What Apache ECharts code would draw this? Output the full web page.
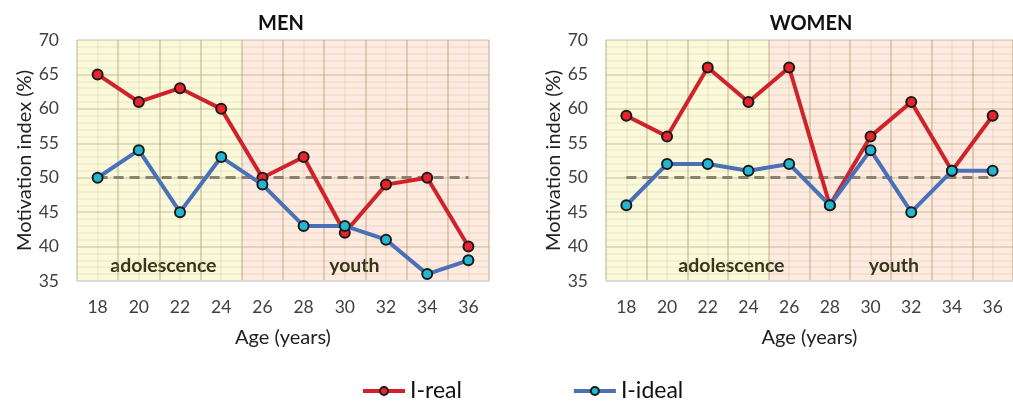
<!DOCTYPE html>
<html><head><meta charset="utf-8">
<script src="https://cdn.jsdelivr.net/npm/echarts@6/dist/echarts.min.js"></script>
<style>html,body{margin:0;padding:0;background:#fff}#c{width:1013px;height:402px}</style>
</head><body><div id="c"></div>
<script>
var ages = ['18','20','22','24','26','28','30','32','34','36'];
var yTicks = {min:35, max:70, step:5};
var menReal = [65,61,63,60,50,53,42,49,50,40];
var menIdeal = [50,54,45,53,49,43,43,41,36,38];
var womenReal = [59,56,66,61,66,46,56,61,51,59];
var womenIdeal = [46,52,52,51,52,46,54,45,51,51];
var refLevel = 50;
var periods = [{name:'adolescence', from:'18', to:'24'}, {name:'youth', from:'26', to:'36'}];
var panelTitles = ['MEN','WOMEN'];
var seriesNames = ['I-real','I-ideal'];

var FONT = 'Lato, "Open Sans", sans-serif';
var bgColors = ['#fafadb','#fdebdf'];
var labelOffsets = [[[4,0],[-11,0]],[[44,0],[3,0]]];
var grids = [
  {left:77, top:40, width:412, height:241},
  {left:606, top:40, width:413, height:241}
];
var data = [[menReal, menIdeal],[womenReal, womenIdeal]];
var majorLine = 'rgba(165,140,95,0.27)';
var minorLine = 'rgba(165,140,95,0.13)';

var option = {
  animation:false,
  textStyle:{fontFamily:FONT},
  title: panelTitles.map(function(t,i){
    return {text:t, left: i===0 ? 276 : 806, top:9, textAlign:'center',
      textStyle:{fontFamily:FONT, fontWeight:'bold', fontSize:20, color:'#111'}};
  }),
  legend:{
    data: seriesNames, left:361, top:378, padding:0, itemGap:110, itemWidth:42, itemHeight:10,
    lineStyle:{width:4},
    textStyle:{fontFamily:FONT, fontSize:23, color:'#111', lineHeight:26}
  },
  grid: grids,
  xAxis: [], yAxis: [], series: []
};

grids.forEach(function(g, i){
  option.xAxis.push({
    type:'category', gridIndex:i, data:ages, boundaryGap:true, z:2,
    name:'Age (years)', nameLocation:'middle', nameGap:47,
    nameTextStyle:{fontFamily:FONT, fontSize:20, color:'#222'},
    axisLine:{show:true, lineStyle:{color:'#d6dbe6', width:1.5}},
    axisTick:{show:false},
    axisLabel:{fontFamily:FONT, fontSize:17.5, color:'#404040', margin:17},
    splitLine:{show:true, interval:0, lineStyle:{color:majorLine, width:2}}
  });
  option.xAxis.push({
    type:'value', gridIndex:i, min:-0.5, max:ages.length-0.5, interval:0.5, z:2,
    show:true, axisLine:{show:false}, axisTick:{show:false}, axisLabel:{show:false},
    splitLine:{show:true, lineStyle:{color:minorLine, width:1.5}}
  });
  option.yAxis.push({
    type:'value', gridIndex:i, min:yTicks.min, max:yTicks.max, interval:yTicks.step, z:2,
    name:'Motivation index (%)', nameLocation:'middle', nameGap:38, nameRotate:90,
    nameTextStyle:{fontFamily:FONT, fontSize:20, color:'#222'},
    axisLine:{show:false}, axisTick:{show:false},
    axisLabel:{fontFamily:FONT, fontSize:17.5, color:'#404040', margin:18},
    splitLine:{show:true, lineStyle:{color:majorLine, width:2}},
    minorTick:{show:false, splitNumber:5},
    minorSplitLine:{show:true, lineStyle:{color:minorLine, width:1.5}}
  });

  option.series.push({
    type:'line', xAxisIndex:i*2+1, yAxisIndex:i, data:[], silent:true, z:1,
    markArea:{
      silent:true,
      data: periods.map(function(p, k){
        return [{
          xAxis: ages.indexOf(p.from)-0.5, yAxis: yTicks.min,
          itemStyle:{color:bgColors[k]},
          label:{show:true, position:'insideBottom', distance:5, offset:labelOffsets[i][k],
            formatter:p.name, fontFamily:FONT, fontWeight:'bold', fontSize:19.5, color:'#33331a'}
        },{
          xAxis: ages.indexOf(p.to)+0.5, yAxis: yTicks.max
        }];
      })
    }
  });

  var colors = [
    {line:'#d0222a', fill:'#e8242a'},
    {line:'#4a70b8', fill:'#22b8d2'}
  ];
  seriesNames.forEach(function(n, s){
    var ser = {
      name:n, type:'line', xAxisIndex:i*2, yAxisIndex:i, data:data[i][s],
      symbol:'circle', symbolSize:10, z:5+s,
      lineStyle:{color:colors[s].line, width:4},
      itemStyle:{color:colors[s].fill, borderColor:'#1a1a1a', borderWidth:2}
    };
    if (s===0) {
      ser.markLine = {
        silent:true, symbol:'none',
        label:{show:false},
        lineStyle:{color:'#8a8270', width:3, type:[10,6]},
        data:[[{coord:[ages[0], refLevel]},{coord:[ages[ages.length-1], refLevel]}]]
      };
    }
    option.series.push(ser);
  });
});

var chart = echarts.init(document.getElementById('c'), null, {renderer:'canvas'});
chart.setOption(option);
</script>
</body></html>
